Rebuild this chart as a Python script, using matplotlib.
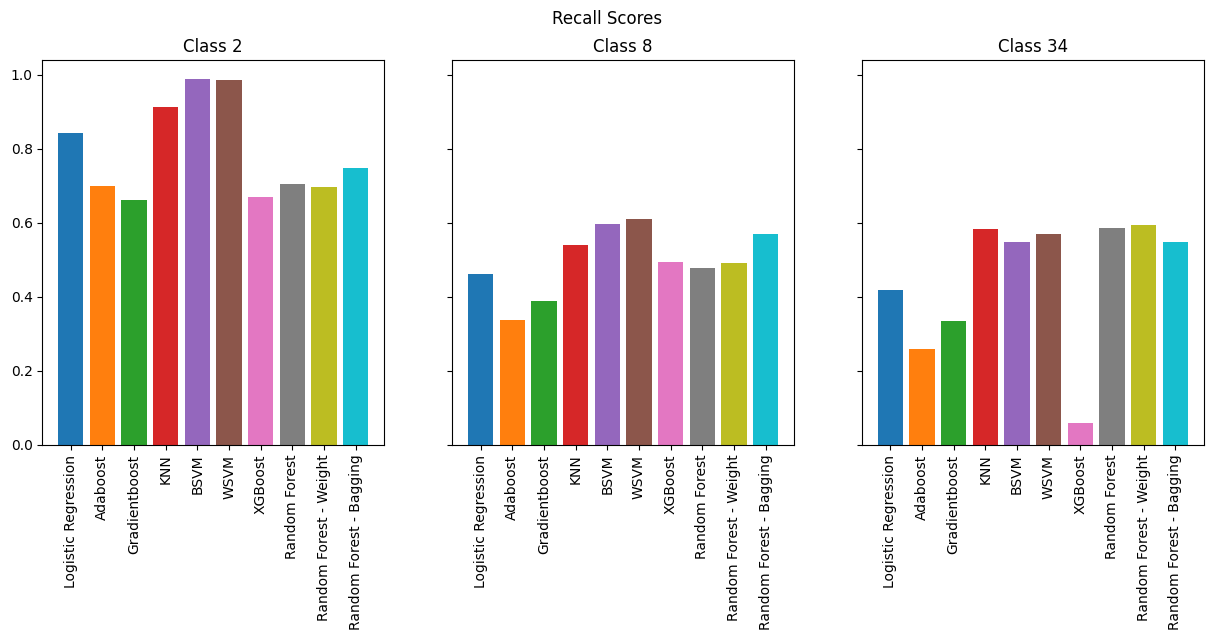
import matplotlib
matplotlib.use("Agg")
import matplotlib.pyplot as plt

models = ["Logistic Regression", "Adaboost", "Gradientboost", "KNN", "BSVM", "WSVM",
          "XGBoost", "Random Forest", "Random Forest - Weight", "Random Forest - Bagging"]
class_titles = ["Class 2", "Class 8", "Class 34"]
recall_class2 = [0.842, 0.699, 0.661, 0.912, 0.990, 0.987, 0.669, 0.704, 0.696, 0.747]
recall_class8 = [0.462, 0.338, 0.389, 0.540, 0.597, 0.610, 0.494, 0.478, 0.492, 0.570]
recall_class34 = [0.419, 0.259, 0.335, 0.583, 0.548, 0.570, 0.059, 0.586, 0.594, 0.548]

colors = plt.rcParams['axes.prop_cycle'].by_key()['color']

fig, axes = plt.subplots(1, 3, figsize=(12.14, 6.4), dpi=100, sharey=True)
fig.subplots_adjust(left=0.035, right=0.9915, top=0.9058, bottom=0.305, wspace=0.2)
for ax, title, vals in zip(axes, class_titles, [recall_class2, recall_class8, recall_class34]):
    ax.bar(models, vals, color=colors[:len(models)])
    ax.set_title(title)
    ax.tick_params(axis='x', rotation=90)
fig.suptitle("Recall Scores", y=0.985)
fig.savefig("out.png", dpi=100)
